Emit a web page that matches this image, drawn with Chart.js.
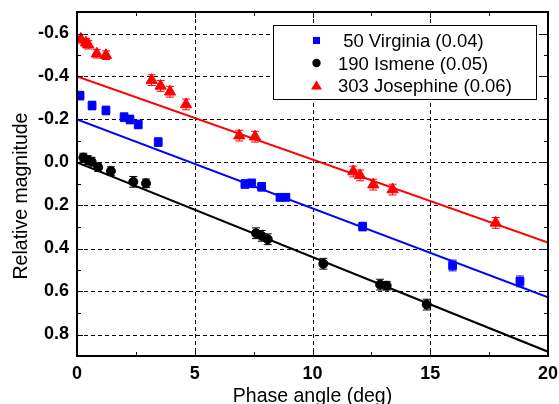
<!DOCTYPE html>
<html>
<head>
    <script src="https://cdn.jsdelivr.net/npm/chart.js@4/dist/chart.umd.min.js"></script>
    <style>body { margin: 0; background: #fff; }</style>
</head>
<body>
    <canvas id="chart" width="559" height="404"></canvas>
</body>
<script>
    // data
    const phaseTicks = [0, 5, 10, 15, 20];
    const magTicks = [-0.6, -0.4, -0.2, 0.0, 0.2, 0.4, 0.6, 0.8];

    const virginiaPhase = [0.13, 0.64, 1.23, 2.0, 2.25, 2.6, 3.45, 7.13, 7.42, 7.84, 8.62, 8.87, 12.13, 15.95, 18.81];
    const virginiaMag = [-0.311, -0.265, -0.242, -0.211, -0.2, -0.177, -0.095, 0.1, 0.097, 0.113, 0.162, 0.162, 0.298, 0.479, 0.553];
    const virginiaErr = [0.02, 0.02, 0.02, 0.02, 0.02, 0.02, 0.02, 0.02, 0.02, 0.02, 0.015, 0.015, 0.02, 0.025, 0.025];

    const ismenePhase = [0.27, 0.45, 0.62, 0.9, 1.44, 2.39, 2.93, 7.6, 7.84, 8.1, 10.46, 12.87, 13.15, 14.85];
    const ismeneMag = [-0.023, -0.012, -0.004, 0.022, 0.04, 0.09, 0.097, 0.329, 0.341, 0.357, 0.471, 0.568, 0.573, 0.661];
    const ismeneErr = [0.02, 0.02, 0.02, 0.02, 0.02, 0.025, 0.02, 0.025, 0.025, 0.025, 0.025, 0.025, 0.02, 0.025];

    const josephinePhase = [0.16, 0.38, 0.48, 0.84, 1.23, 3.17, 3.55, 3.95, 4.63, 6.89, 7.56, 11.73, 12.02, 12.58, 13.4, 17.78];
    const josephineMag = [-0.575, -0.557, -0.548, -0.506, -0.499, -0.383, -0.356, -0.329, -0.27, -0.125, -0.12, 0.042, 0.06, 0.103, 0.126, 0.281];
    const josephineErr = [0.02, 0.02, 0.02, 0.02, 0.02, 0.025, 0.025, 0.025, 0.025, 0.025, 0.025, 0.025, 0.025, 0.025, 0.025, 0.025];

    const fitPhase = [0, 20];
    const virginiaFit = [-0.2, 0.627];
    const ismeneFit = [0.0, 0.88];
    const josephineFit = [-0.4, 0.372];

    const labels = [' 50 Virginia (0.04)', '190 Ismene (0.05)', '303 Josephine (0.06)'];
    const colors = ['#0000ff', '#000000', '#ff0000'];

    const FONT = '"Liberation Sans", Arial, Helvetica, sans-serif';

    function pts(xs, ys) {
        return xs.map((x, i) => ({x: x, y: ys[i]}));
    }

    function markerSet(i, xs, ys, errs, style, r) {
        return {
            label: labels[i],
            data: pts(xs, ys),
            err: errs,
            showLine: false,
            pointStyle: style,
            pointRadius: r,
            pointBackgroundColor: colors[i],
            pointBorderColor: colors[i],
            pointBorderWidth: 1,
            borderColor: colors[i]
        };
    }

    function fitSet(i, ys) {
        return {
            data: pts(fitPhase, ys),
            showLine: true,
            pointRadius: 0,
            borderColor: colors[i],
            borderWidth: 2
        };
    }

    // scales must not widen the plot for their end labels
    function noPad(s) {
        s.paddingTop = 0; s.paddingBottom = 0; s.paddingLeft = 0; s.paddingRight = 0;
    }

    const decor = {
        id: 'decor',
        beforeDatasetsDraw(chart) {
            const {ctx, chartArea: a, scales: {x, y}} = chart;
            ctx.save();
            // dashed grid
            ctx.strokeStyle = '#000';
            ctx.lineWidth = 1;
            ctx.setLineDash([4, 3]);
            phaseTicks.forEach(v => {
                const px = Math.round(x.getPixelForValue(v)) + 0.5;
                if (px < a.left + 3 || px > a.right - 3) return;
                ctx.beginPath(); ctx.moveTo(px, a.top); ctx.lineTo(px, a.bottom); ctx.stroke();
            });
            magTicks.forEach(v => {
                const py = Math.round(y.getPixelForValue(v)) + 0.5;
                if (py < a.top + 3 || py > a.bottom - 3) return;
                ctx.beginPath(); ctx.moveTo(a.left, py); ctx.lineTo(a.right, py); ctx.stroke();
            });
            ctx.setLineDash([]);
            // error bars behind the markers
            chart.data.datasets.forEach(ds => {
                if (!ds.err) return;
                ctx.strokeStyle = ds.borderColor;
                ctx.lineWidth = 1;
                ds.data.forEach((p, i) => {
                    const px = x.getPixelForValue(p.x);
                    const y1 = y.getPixelForValue(p.y - ds.err[i]);
                    const y2 = y.getPixelForValue(p.y + ds.err[i]);
                    ctx.beginPath();
                    ctx.moveTo(px, y1); ctx.lineTo(px, y2);
                    ctx.moveTo(px - 4, y1); ctx.lineTo(px + 4, y1);
                    ctx.moveTo(px - 4, y2); ctx.lineTo(px + 4, y2);
                    ctx.stroke();
                });
            });
            ctx.restore();
        },
        afterDraw(chart) {
            const {ctx, chartArea: a, scales: {x, y}} = chart;
            ctx.save();
            // inward ticks on all four sides
            ctx.strokeStyle = '#000';
            ctx.lineWidth = 1;
            for (let v = 2.5; v < 20; v += 2.5) {
                const px = Math.round(x.getPixelForValue(v)) + 0.5;
                const len = v % 5 === 0 ? 6 : 4;
                ctx.beginPath();
                ctx.moveTo(px, a.bottom); ctx.lineTo(px, a.bottom - len);
                ctx.moveTo(px, a.top); ctx.lineTo(px, a.top + len);
                ctx.stroke();
            }
            for (let k = -6; k <= 8; k++) {
                const py = Math.round(y.getPixelForValue(k / 10)) + 0.5;
                const len = k % 2 === 0 ? 6 : 4;
                ctx.beginPath();
                ctx.moveTo(a.left, py); ctx.lineTo(a.left + len, py);
                ctx.moveTo(a.right, py); ctx.lineTo(a.right - len, py);
                ctx.stroke();
            }
            // frame
            ctx.lineWidth = 2;
            ctx.strokeRect(a.left, a.top, a.right - a.left, a.bottom - a.top);

            // axis titles
            ctx.fillStyle = '#000';
            ctx.font = '19.5px ' + FONT;
            ctx.textAlign = 'center';
            ctx.textBaseline = 'alphabetic';
            ctx.fillText('Phase angle (deg)', (a.left + a.right) / 2, 402);
            ctx.save();
            ctx.translate(27, 196);
            ctx.rotate(-Math.PI / 2);
            ctx.fillText('Relative magnitude', 0, 0);
            ctx.restore();

            // legend box
            ctx.fillStyle = '#fff';
            ctx.fillRect(273.5, 25.5, 263, 74);
            ctx.lineWidth = 1;
            ctx.strokeStyle = '#000';
            ctx.strokeRect(273.5, 25.5, 263, 74);
            const rows = [47, 69.5, 92];
            ctx.font = '18.5px ' + FONT;
            ctx.textAlign = 'left';
            chart.data.datasets.filter(ds => ds.err).forEach((ds, i) => {
                const cx = 316.5, cy = rows[i] - 6.5;
                ctx.fillStyle = ds.borderColor;
                ctx.beginPath();
                if (ds.pointStyle === 'rect') {
                    ctx.rect(cx - 3.5, cy - 3.5, 7, 7);
                } else if (ds.pointStyle === 'circle') {
                    ctx.arc(cx, cy, 4.2, 0, Math.PI * 2);
                } else {
                    ctx.moveTo(cx, cy - 5); ctx.lineTo(cx + 5.5, cy + 4); ctx.lineTo(cx - 5.5, cy + 4);
                    ctx.closePath();
                }
                ctx.fill();
                ctx.fillStyle = '#000';
                ctx.fillText(ds.label, 338, rows[i]);
            });
            ctx.restore();
        }
    };

    const tickFont = {family: FONT, size: 18, weight: 'bold'};

    new Chart('chart', {
        type: 'scatter',
        data: {
            datasets: [
                markerSet(0, virginiaPhase, virginiaMag, virginiaErr, 'rect', 5.5),
                markerSet(1, ismenePhase, ismeneMag, ismeneErr, 'circle', 4.5),
                markerSet(2, josephinePhase, josephineMag, josephineErr, 'triangle', 6.5),
                fitSet(0, virginiaFit),
                fitSet(1, ismeneFit),
                fitSet(2, josephineFit)
            ]
        },
        options: {
            responsive: false,
            animation: false,
            layout: {padding: {top: 12, right: 11, left: 0, bottom: 0}},
            plugins: {legend: {display: false}, tooltip: {enabled: false}},
            scales: {
                x: {
                    type: 'linear',
                    min: 0,
                    max: 20,
                    afterBuildTicks: s => { s.ticks = phaseTicks.map(v => ({value: v})); },
                    afterFit: s => { s.height = 48; noPad(s); },
                    grid: {display: false, drawTicks: false},
                    border: {display: false},
                    ticks: {color: '#000', padding: 7, font: tickFont, maxRotation: 0, autoSkip: false}
                },
                y: {
                    type: 'linear',
                    min: -0.7,
                    max: 0.9,
                    reverse: true,
                    afterBuildTicks: s => { s.ticks = magTicks.map(v => ({value: v})); },
                    afterFit: s => { s.width = 77; noPad(s); },
                    grid: {display: false, drawTicks: false},
                    border: {display: false},
                    ticks: {color: '#000', padding: 8, font: tickFont, autoSkip: false,
                        callback: v => v.toFixed(1)}
                }
            }
        },
        plugins: [decor]
    });
</script>
</html>
